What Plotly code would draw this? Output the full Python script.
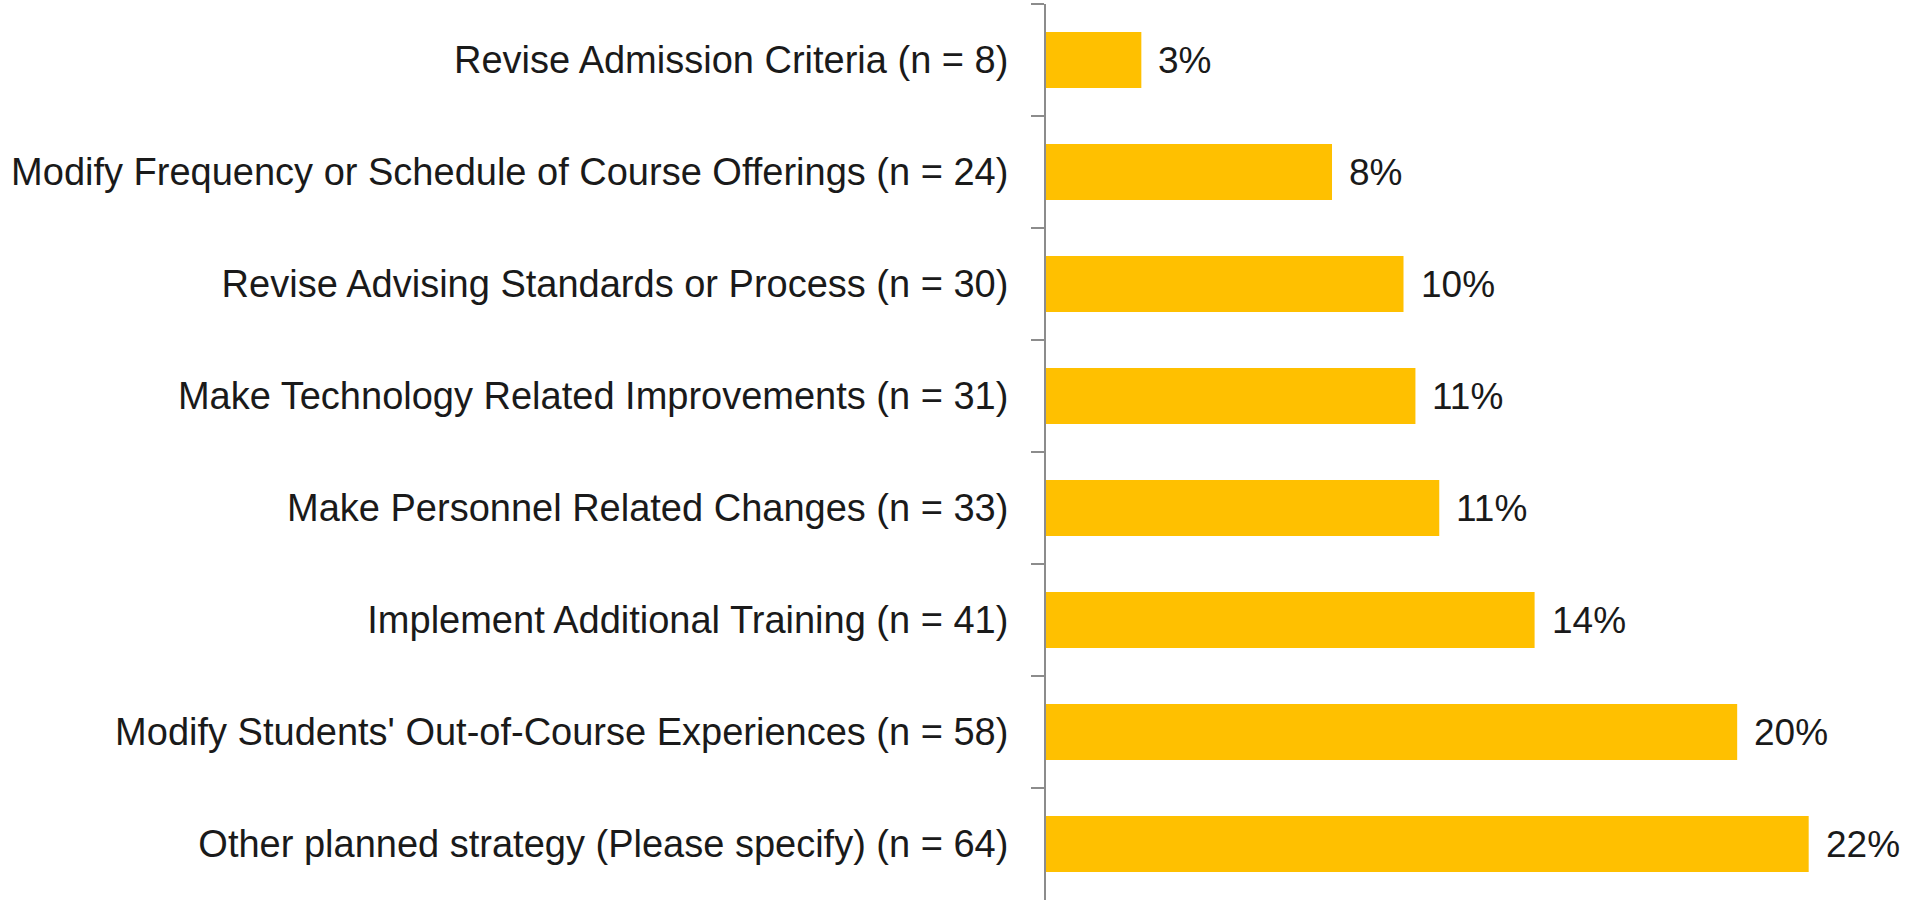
import plotly.graph_objects as go

categories = [
    "Revise Admission Criteria (n = 8)",
    "Modify Frequency or Schedule of Course Offerings (n = 24)",
    "Revise Advising Standards or Process (n = 30)",
    "Make Technology Related Improvements (n = 31)",
    "Make Personnel Related Changes (n = 33)",
    "Implement Additional Training (n = 41)",
    "Modify Students' Out-of-Course Experiences (n = 58)",
    "Other planned strategy (Please specify) (n = 64)",
]
counts = [8, 24, 30, 31, 33, 41, 58, 64]
total = sum(counts)
shares = [c / total for c in counts]
labels = [f"{round(s * 100):d}%" for s in shares]

FONT = "Liberation Sans"
TEXT = "#1a1a1a"

fig = go.Figure(
    go.Bar(
        x=shares,
        y=categories,
        orientation="h",
        marker=dict(color="#FFC000", line=dict(width=0)),
        hoverinfo="skip",
    )
)

for s, c, lab in zip(shares, categories, labels):
    fig.add_annotation(
        x=s, y=c, text=lab, showarrow=False, xanchor="left", xshift=15,
        font=dict(family=FONT, size=37, color=TEXT),
    )

fig.update_layout(
    width=1907,
    height=903,
    margin=dict(l=1046, r=0, t=4, b=3),
    paper_bgcolor="white",
    plot_bgcolor="white",
    bargap=0.5,
    showlegend=False,
    xaxis=dict(range=[0, 0.25], visible=False, fixedrange=True),
    yaxis=dict(
        autorange="reversed",
        showline=True,
        linecolor="#8c8c8c",
        linewidth=2,
        ticks="outside",
        ticklen=13,
        tickwidth=2,
        tickcolor="#8c8c8c",
        tickson="boundaries",
        ticklabelstandoff=28,
        showgrid=False,
        fixedrange=True,
        tickfont=dict(family=FONT, size=38, color=TEXT),
    ),
)

fig.write_html(
    "out.html",
    config={"displayModeBar": False},
    post_script="document.body.style.margin='0';document.body.style.padding='0';",
)
